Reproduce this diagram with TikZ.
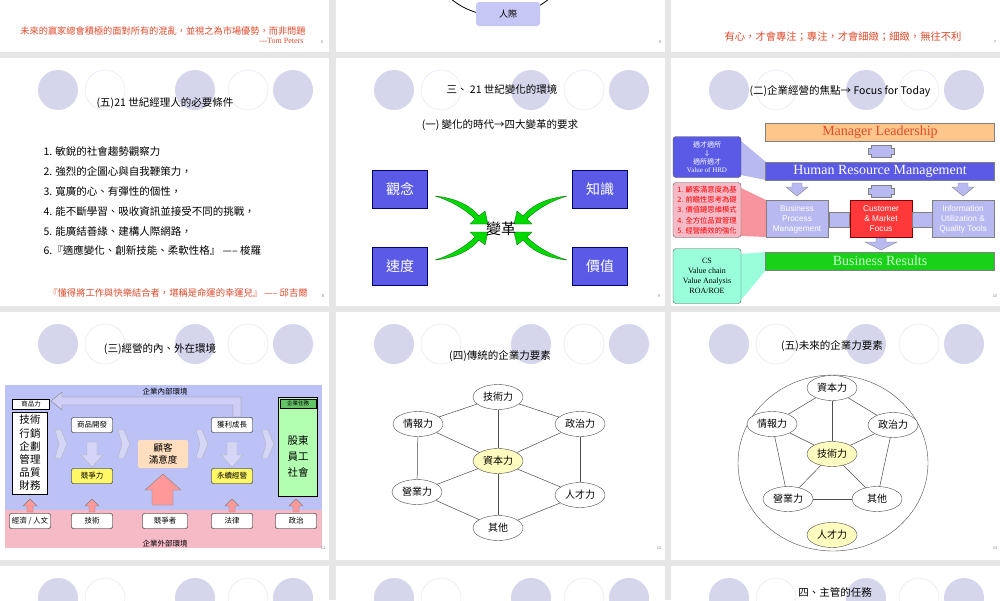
\documentclass[tikz,border=0pt]{standalone}
\usepackage{fontspec}
\setmainfont{Noto Sans CJK TC}
\newfontfamily\serifl{Liberation Serif}
\newfontfamily\sansl{Liberation Sans}
\usetikzlibrary{shapes.geometric,arrows.meta}
\definecolor{lav}{HTML}{D5D5EC}
\definecolor{gapgray}{HTML}{E6E6E6}
\definecolor{redtxt}{HTML}{E04A2A}
\definecolor{boxblue}{HTML}{5A5AE6}
\definecolor{lightblue}{HTML}{B9B9F2}
\definecolor{pinkbg}{HTML}{F6B9C6}
\definecolor{bluebg}{HTML}{BCC2F6}
\tikzset{
 dotf/.style={circle,fill=lav,minimum size=40pt,inner sep=0},
 doto/.style={circle,fill=white,draw=lav!70,minimum size=40pt,inner sep=0},
 head/.style={font=\fontsize{10.5}{11}\selectfont},
 pnum/.style={font=\fontsize{4}{4}\selectfont,text=gray},
 fel/.style={ellipse,draw=black!70,fill=white,minimum width=50pt,minimum height=25pt,inner sep=0,font=\fontsize{10}{11}\selectfont},
 fely/.style={fel,fill=yellow!25},
 bluesq/.style={draw=blue!40!black,fill=boxblue,text=white,minimum width=55pt,minimum height=38pt,font=\fontsize{14}{15}\selectfont,line width=1pt},
 wbox/.style={draw=black,rounded corners=2pt,fill=white,minimum width=41pt,minimum height=15pt,inner sep=0,font=\fontsize{7.5}{8}\selectfont},
 ybox/.style={wbox,fill=yellow!60},
 bar/.style={draw=gray,minimum width=229pt,minimum height=18pt,inner sep=0},
 midbox/.style={draw=gray,minimum width=62pt,minimum height=37pt,inner sep=0,align=center,text=white,font=\sansl\fontsize{8.3}{10}\selectfont},
 lbox/.style={draw=gray!70!black,rounded corners=3pt,minimum width=68pt,inner sep=0,align=center},
 edge/.style={draw=black!70,line width=0.5pt}
}
\newcommand{\slidedots}[2]{%
 \node[dotf] at (#1+58,#2+32) {};\node[doto] at (#1+105,#2+32) {};
 \node[dotf] at (#1+195,#2+32) {};\node[doto] at (#1+248,#2+32) {};
 \node[dotf] at (#1+293,#2+32) {};}
\begin{document}
\begin{tikzpicture}[x=1pt,y=-1pt]
\useasboundingbox (0,0) rectangle (1000,600);
\fill[gapgray] (0,0) rectangle (1000,600);
% slides
\foreach \sx in {0,336,671}{
 \foreach \sy/\ey in {-10/52,58/306,312/560,566/610}{
  \fill[white] (\sx,\sy) rectangle (\sx+329,\ey);}}
% decorative circles
\foreach \sx in {0,336,671}{\foreach \sy in {58,312,566}{\slidedots{\sx}{\sy}}}
% ---------- top row
\node[font=\fontsize{9.2}{10}\selectfont,text=redtxt] (q5) at (163,31) {未來的贏家總會積極的面對所有的混亂，並視之為市場優勢，而非問題};
\node[font=\serifl\fontsize{8}{9}\selectfont,text=redtxt,anchor=east] (tp) at (307,41) {---Tom Peters};
\node[pnum] (n5) at (322,42) {5};
\begin{scope}
\clip (336,-10) rectangle (665,52);
\draw[line width=0.8pt] (500,-40) ellipse (68 and 56);
\end{scope}
\node[fill=lightblue!80,rounded corners=3pt,minimum width=64pt,minimum height=24pt,font=\fontsize{9}{10}\selectfont] (rj) at (508,14) {人際};
\node[pnum] (n6) at (660,42) {6};
\node[font=\fontsize{10.3}{11}\selectfont,text=redtxt] (q7) at (843,37) {有心，才會專注；專注，才會細緻；細緻，無往不利};
\node[pnum] (n7) at (995,42) {7};
% ---------- slide 8
\node[head] (h8) at (165,103) {(五)21 世紀經理人的必要條件};
\begin{scope}[every node/.style={anchor=west,font=\fontsize{10.5}{11}\selectfont}]
\node (l1) at (40,152) {1. 敏銳的社會趨勢觀察力};
\node (l2) at (40,171) {2. 強烈的企圖心與自我鞭策力，};
\node (l3) at (40,191) {3. 寬廣的心、有彈性的個性，};
\node (l4) at (40,211) {4. 能不斷學習、吸收資訊並接受不同的挑戰，};
\node (l5) at (40,231) {5. 能廣結善緣、建構人際網路，};
\node (l6) at (40,250) {6.『適應變化、創新技能、柔軟性格』 -----  梭羅};
\end{scope}
\node[font=\fontsize{9.3}{10}\selectfont,text=redtxt] (q8) at (178,293) {『懂得將工作與快樂結合者，堪稱是命運的幸運兒』 -----  邱吉爾};
\node[pnum] (n8) at (323,296) {8};
% ---------- slide 9
\node[head] (h9) at (502,90) {三、 21 世紀變化的環境};
\node[head] (s9) at (500,125) {(一) 變化的時代→四大變革的要求};
\node[bluesq] (b1) at (400,189) {觀念};
\node[bluesq] (b2) at (600,189) {知識};
\node[bluesq] (b3) at (400,266) {速度};
\node[bluesq] (b4) at (600,266) {價值};
\foreach \s/\t in {1/1,-1/1,1/-1,-1/-1}{
 \begin{scope}[shift={(501,228)},xscale=\s,yscale=\t]
 \fill[green!85!black,draw=green!40!black,line width=0.3pt]
  (-66,-32) .. controls (-45,-30) and (-30,-22) .. (-22,-12)
  -- (-16,-17) -- (-13,-4) -- (-31,-4) -- (-26,-9)
  .. controls (-36,-19) and (-50,-27) .. (-66,-32);
 \end{scope}}
\node[font=\fontsize{15}{16}\selectfont] (bg) at (501,229) {變革};
\node[pnum] (n9) at (659,296) {9};
% ---------- slide 10
\node[head] (h10) at (840,91) {(二)企業經營的焦點→ Focus for Today};
\fill[lightblue] (741,141)--(766,162)--(766,180)--(741,175)--cycle;
\fill[pinkbg!80!red] (741,188)--(766,200)--(766,237)--(741,236)--cycle;
\fill[green!35!cyan!40] (741,254)--(766,252)--(766,270)--(741,300)--cycle;
\node[bar,fill=orange!45,text=redtxt,font=\serifl\fontsize{14}{15}\selectfont] (ml) at (880,132) {Manager Leadership};
\node[bar,fill=boxblue,text=white,font=\serifl\fontsize{14}{15}\selectfont] (hrm) at (880,171) {Human Resource Management};
\node[bar,fill=green!80!black!90,text=green!20,font=\serifl\fontsize{14}{15}\selectfont] (br) at (880,261) {Business Results};
\node[midbox,fill=lightblue] (bp) at (797,219) {Business\\Process\\Management};
\node[midbox,fill=red!70!pink,draw=red!50!black] (cm) at (881,219) {Customer\\\& Market\\Focus};
\node[midbox,fill=lightblue] (iu) at (963,219) {Information\\Utilization \&\\Quality Tools};
\node[lbox,fill=boxblue,minimum height=41pt,text=white,font=\fontsize{7}{8.5}\selectfont] (lb1) at (707,157) {適才適所\\$\Downarrow$\\適所適才\\{\serifl Value of HRD}};
\node[lbox,fill=pinkbg,minimum height=55pt,text=red,font=\fontsize{7.3}{10.3}\selectfont,align=left] (lb2) at (707,210) {1. 顧客滿意度為基\\2. 前瞻性思考為礎\\3. 價值鏈思維模式\\4. 全方位品質管理\\5. 經營績效的強化};
\node[lbox,fill=green!35!cyan!40,minimum height=55pt,font=\serifl\fontsize{8}{10}\selectfont] (lb3) at (707,276) {CS\\Value chain\\Value Analysis\\ROA/ROE};
\tikzset{sarr/.style={fill=lightblue,draw=gray}}
\foreach \ax/\ay in {881/145,881/185}{
 \draw[sarr] (\ax-10,\ay)--(\ax+10,\ay)--(\ax+10,\ay+3)--(\ax+13,\ay+3)--(\ax+13,\ay+9)--(\ax+10,\ay+9)--(\ax+10,\ay+12)--(\ax-10,\ay+12)--(\ax-10,\ay+9)--(\ax-13,\ay+9)--(\ax-13,\ay+3)--(\ax-10,\ay+3)--cycle;}
\foreach \ax in {797,963}{\draw[sarr] (\ax-5,183)--(\ax+5,183)--(\ax+5,187)--(\ax+11,187)--(\ax,196)--(\ax-11,187)--(\ax-5,187)--cycle;}
\draw[sarr] (876,238)--(886,238)--(886,242)--(897,242)--(881,250)--(865,242)--(876,242)--cycle;
\foreach \ax in {839,922}{\draw[sarr] (\ax-10,212)--(\ax+10,212)--(\ax+10,227)--(\ax-10,227)--cycle;}
\node[pnum] (n10) at (995,296) {10};
% ---------- slide 11
\node[head] (h11) at (160,349) {(三)經營的內、外在環境};
\fill[bluebg] (5,385) rectangle (322,510);
\fill[pinkbg] (5,510) rectangle (322,548);
\node[font=\fontsize{7.5}{8}\selectfont] (in11) at (165,392) {企業內部環境};
\node[font=\fontsize{7.5}{8}\selectfont] (out11) at (165,544) {企業外部環境};
\draw[fill=lightblue!70,draw=gray] (233,417)--(233,405)--(62,405)--(62,410)--(51,401)--(62,392)--(62,397)--(241,397)--(241,417)--cycle;
\node[draw=black,fill=white,minimum width=37pt,minimum height=10pt,inner sep=0,font=\fontsize{6.5}{7}\selectfont] (spl) at (31,404) {商品力};
\node[draw=black,line width=0.8pt,fill=white,minimum width=35pt,minimum height=82pt,inner sep=0,align=center,font=\fontsize{10.5}{13.2}\selectfont] (tech) at (30,453) {技術\\行銷\\企劃\\管理\\品質\\財務};
\node[wbox] (kf) at (92,425) {商品開發};
\node[ybox] (jz) at (92,476) {競爭力};
\node[wbox] (hl) at (232,425) {獲利成長};
\node[ybox] (yx) at (232,476) {永續經營};
\node[fill=orange!25,rounded corners=2pt,minimum width=50pt,minimum height=28pt,align=center,font=\fontsize{9.5}{11.5}\selectfont] (gk) at (163,454) {顧客\\滿意度};
\node[draw=black,line width=1.5pt,fill=green!30,minimum width=39pt,minimum height=99pt,inner sep=0] (rw) at (298,447) {};
\node[draw=black,fill=green!60!black!60,minimum width=36pt,minimum height=9pt,inner sep=0,font=\fontsize{5.5}{6}\selectfont,anchor=north] (rwh) at (298,399) {企業任務};
\node[align=center,font=\fontsize{10.5}{16}\selectfont] (rwb) at (298,456) {股東\\員工\\社會};
\node[wbox] (b11a) at (30,521) {經濟 / 人文};
\node[wbox] (b11b) at (92,521) {技術};
\node[wbox,minimum width=45pt] (b11c) at (165,521) {競爭者};
\node[wbox] (b11d) at (232,521) {法律};
\node[wbox] (b11e) at (296,521) {政治};
\tikzset{chev/.style={fill=lightblue!60,draw=gray!60}}
\foreach \cx in {55,118,196,262}{\draw[chev] (\cx,430)--(\cx+6,430)--(\cx+12,444)--(\cx+6,458)--(\cx,458)--(\cx+4,444)--cycle;}
\foreach \cx in {92,232}{\draw[chev] (\cx-5,442)--(\cx+5,442)--(\cx+5,455)--(\cx+11,455)--(\cx,467)--(\cx-11,455)--(\cx-5,455)--cycle;}
\draw[fill=pink!80!red,draw=gray] (152,505)--(173,505)--(173,490)--(181,490)--(163,474)--(145,490)--(152,490)--cycle;
\foreach \cx/\cy in {30/512,92/512,232/512,296/512}{\draw[fill=pink!80!red,draw=gray] (\cx-3,\cy)--(\cx+3,\cy)--(\cx+3,\cy-6)--(\cx+7,\cy-6)--(\cx,\cy-13)--(\cx-7,\cy-6)--(\cx-3,\cy-6)--cycle;}
\node[pnum] (n11) at (323,548) {11};
% ---------- slide 12
\node[head] (h12) at (500,356) {(四)傳統的企業力要素};
\node[fel] (a1) at (498,397) {技術力};
\node[fel] (a2) at (418,424) {情報力};
\node[fel] (a3) at (580,424) {政治力};
\node[fely] (a4) at (498,461) {資本力};
\node[fel] (a5) at (417,492) {營業力};
\node[fel] (a6) at (580,495) {人才力};
\node[fel] (a7) at (498,528) {其他};
\foreach \u/\v in {a1/a2,a1/a3,a1/a4,a2/a4,a3/a4,a2/a5,a3/a6,a4/a5,a4/a6,a4/a7,a5/a7,a6/a7}{\draw[edge] (\u)--(\v);}
\node[pnum] (n12) at (659,548) {12};
% ---------- slide 13
\node[head] (h13) at (832,346) {(五)未來的企業力要素};
\draw[black!70] (833,463) ellipse (95 and 88);
\node[fel] (c1) at (832,388) {資本力};
\node[fel] (c2) at (772,424) {情報力};
\node[fel] (c3) at (893,425) {政治力};
\node[fely] (c4) at (832,454) {技術力};
\node[fel] (c5) at (788,499) {營業力};
\node[fel] (c6) at (877,499) {其他};
\node[fely] (c7) at (832,535) {人才力};
\foreach \u/\v in {c1/c2,c1/c3,c1/c4,c2/c4,c3/c4,c2/c5,c3/c6,c4/c5,c4/c6,c5/c6}{\draw[edge] (\u)--(\v);}
\node[pnum] (n13) at (995,548) {13};
% ---------- bottom row
\node[head] (h16) at (835,592) {四、主管的任務};
\end{tikzpicture}
\end{document}
